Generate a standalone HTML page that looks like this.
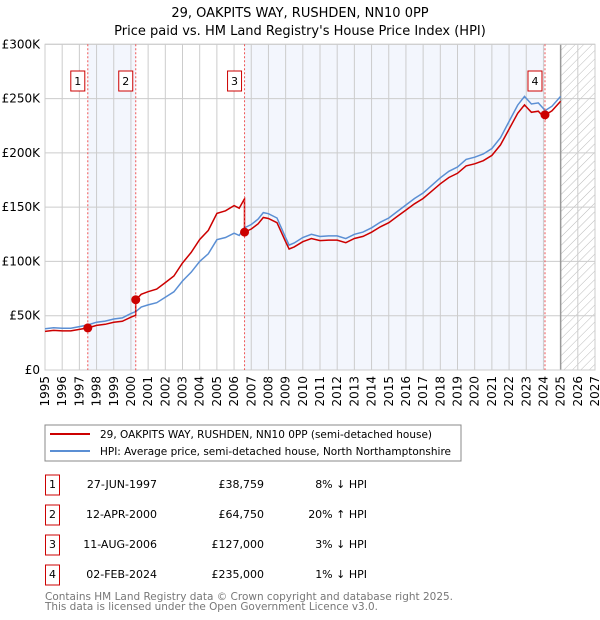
<!DOCTYPE html>
<html><head><meta charset="utf-8"><style>
body{margin:0;background:#fff;}
svg{display:block;font-family:"DejaVu Sans","Liberation Sans",sans-serif;}
</style></head><body>
<svg id="c" width="600" height="620" viewBox="0 0 600 620">
<text x="300" y="17" text-anchor="middle" font-size="13">29, OAKPITS WAY, RUSHDEN, NN10 0PP</text>
<text x="300" y="35" text-anchor="middle" font-size="13">Price paid vs. HM Land Registry's House Price Index (HPI)</text>
<defs><pattern id="hatch" width="6" height="6" patternUnits="userSpaceOnUse" patternTransform="rotate(45)"><line x1="0" y1="0" x2="0" y2="6" stroke="#bbb" stroke-width="1"/></pattern></defs>
<g id="plot"></g>
<rect x="45" y="425" width="416" height="36" fill="#fff" stroke="#888"/>
<line x1="50" y1="434" x2="90" y2="434" stroke="#cc0000" stroke-width="2"/>
<text x="100" y="438" font-size="10.5" textLength="332" lengthAdjust="spacingAndGlyphs">29, OAKPITS WAY, RUSHDEN, NN10 0PP (semi-detached house)</text>
<line x1="50" y1="451" x2="90" y2="451" stroke="#5b8fd4" stroke-width="2"/>
<text x="100" y="455" font-size="10.5" textLength="351" lengthAdjust="spacingAndGlyphs">HPI: Average price, semi-detached house, North Northamptonshire</text>
<g id="table" font-size="11"></g>
<text x="45" y="600" font-size="11" textLength="408" lengthAdjust="spacingAndGlyphs" fill="#777">Contains HM Land Registry data © Crown copyright and database right 2025.</text>
<text x="45" y="610" font-size="11" textLength="333" lengthAdjust="spacingAndGlyphs" fill="#777">This data is licensed under the Open Government Licence v3.0.</text>
</svg>
<script>
const hpiYears=[1995,1995.5,1996,1996.5,1997,1997.5,1998,1998.5,1999,1999.5,2000,2000.3,2000.6,2001,2001.5,2002,2002.5,2003,2003.5,2004,2004.5,2005,2005.5,2006,2006.3,2006.6,2007,2007.4,2007.7,2008,2008.5,2009,2009.2,2009.5,2010,2010.5,2011,2011.5,2012,2012.5,2013,2013.5,2014,2014.5,2015,2015.5,2016,2016.5,2017,2017.5,2018,2018.5,2019,2019.5,2020,2020.5,2021,2021.5,2022,2022.5,2022.9,2023.3,2023.7,2024.1,2024.5,2025.0];
const hpiValues=[38,39,38.5,38.5,40,41.5,44,45,47,48,52,54,58,60,62,67,72,82,90,100,107,120,122,126,124,131,134,139,145,144,140,122,115,117,122,125,123,123.5,123.5,121,125,127,131,136,140,146,152,158,163,170,177,183,187,194,196,199,204,214,229,244,252,245,246,239,243,252];
const saleDates=[1997.49,2000.28,2006.61,2024.09];
const salePrices=[38.759,64.75,127,235];
const saleLabels=["27-JUN-1997","12-APR-2000","11-AUG-2006","02-FEB-2024"];
const salePriceText=["£38,759","£64,750","£127,000","£235,000"];
const saleDiff=["8% ↓ HPI","20% ↑ HPI","3% ↓ HPI","1% ↓ HPI"];
const yTicks=[0,50,100,150,200,250,300];
const yTickLabels=["£0","£50K","£100K","£150K","£200K","£250K","£300K"];
const xTicks=[1995,1996,1997,1998,1999,2000,2001,2002,2003,2004,2005,2006,2007,2008,2009,2010,2011,2012,2013,2014,2015,2016,2017,2018,2019,2020,2021,2022,2023,2024,2025,2026,2027];

const X0=45,X1=595,Y0=370,Y1=44.3;
const x=t=>X0+(t-1995)/(2027-1995)*(X1-X0);
const y=v=>Y0-v/300*(Y0-Y1);
const NS="http://www.w3.org/2000/svg";
const plot=document.getElementById('plot');
function mk(tag,attrs,parent){const e=document.createElementNS(NS,tag);for(const k in attrs)e.setAttribute(k,attrs[k]);(parent||plot).appendChild(e);return e;}
function hpiAt(t){for(let i=1;i<hpiYears.length;i++){if(t<=hpiYears[i]){const a=hpiYears[i-1],b=hpiYears[i];return hpiValues[i-1]+(hpiValues[i]-hpiValues[i-1])*(t-a)/(b-a);}}return hpiValues[hpiValues.length-1];}

let e;
e=mk('rect',{x:x(saleDates[0]),y:Y1,width:x(saleDates[1])-x(saleDates[0]),height:Y0-Y1,fill:'#f3f6fd'});


e=mk('rect',{x:x(saleDates[2]),y:Y1,width:x(saleDates[3])-x(saleDates[2]),height:Y0-Y1,fill:'#f3f6fd'});


e=mk('rect',{x:x(2025),y:Y1,width:X1-x(2025),height:Y0-Y1,fill:'url(#hatch)'});


xTicks.forEach(t=>{
  e=mk('line',{x1:x(t),x2:x(t),y1:Y1,y2:Y0,stroke:'#ccc','stroke-width':1});
  
  
  e=mk('text',{x:0,y:0,'font-size':12,'text-anchor':'end',transform:`translate(${x(t)+4},${Y0+6}) rotate(-90)`});
  e.textContent=t;
  
  
});
yTicks.forEach((v,i)=>{
  e=mk('line',{x1:X0,x2:X1,y1:y(v),y2:y(v),stroke:'#ccc','stroke-width':1});
  
  
  e=mk('text',{x:40,y:y(v)+4,'font-size':12,'text-anchor':'end'});
  e.textContent=yTickLabels[i];
  
  
});
e=mk('line',{x1:x(2025),x2:x(2025),y1:Y1,y2:Y0,stroke:'#999','stroke-width':1.5});


e=mk('rect',{x:X0,y:Y1,width:X1-X0,height:Y0-Y1,fill:'none',stroke:'#ccc'});



let d=hpiYears.map((t,i)=>(i?'L':'M')+x(t).toFixed(1)+','+y(hpiValues[i]).toFixed(1)).join('');
e=mk('path',{d:d,fill:'none',stroke:'#5b8fd4','stroke-width':1.5});


let pts=[];
const ts=[...hpiYears,...saleDates].sort((a,b)=>a-b);
ts.forEach(t=>{
  let k=0;for(let j=0;j<saleDates.length;j++)if(t>=saleDates[j])k=j;
  const r=salePrices[k]/hpiAt(saleDates[k]);
  if(saleDates.includes(t)&&t>saleDates[0]){const kp=k-1;pts.push([t,hpiAt(t)*salePrices[kp]/hpiAt(saleDates[kp])]);}
  pts.push([t,hpiAt(t)*r]);
});
d=pts.map((p,i)=>(i?'L':'M')+x(p[0]).toFixed(1)+','+y(p[1]).toFixed(1)).join('');
e=mk('path',{d:d,fill:'none',stroke:'#cc0000','stroke-width':1.5});



saleDates.forEach((t,i)=>{
  e=mk('line',{x1:x(t),x2:x(t),y1:Y1,y2:Y0,stroke:'#ee5555','stroke-width':1,'stroke-dasharray':'2,2'});
  
  
  e=mk('circle',{cx:x(t),cy:y(salePrices[i]),r:4.5,fill:'#cc0000'});
  
  
  e=mk('rect',{x:x(t)-17,y:71,width:14,height:20,fill:'#fff',stroke:'#cc0000'});
  
  
  e=mk('text',{x:x(t)-10,y:85,'font-size':11,'text-anchor':'middle'});
  e.textContent=i+1;
  
  
});

const tbl=document.getElementById('table');
saleDates.forEach((t,i)=>{
  const cy=483+i*30;
  e=mk('rect',{x:45.5,y:cy-8,width:14,height:20,fill:'#fff',stroke:'#cc0000'},tbl);
  
  
  e=mk('text',{x:52.5,y:cy+5,'text-anchor':'middle'},tbl);e.textContent=i+1;
  
  
  e=mk('text',{x:157,y:cy+5,'text-anchor':'end'},tbl);e.textContent=saleLabels[i];
  
  
  e=mk('text',{x:264,y:cy+5,'text-anchor':'end'},tbl);e.textContent=salePriceText[i];
  
  
  e=mk('text',{x:367,y:cy+5,'text-anchor':'end'},tbl);e.textContent=saleDiff[i];
  
  
});
</script>
</body></html>
